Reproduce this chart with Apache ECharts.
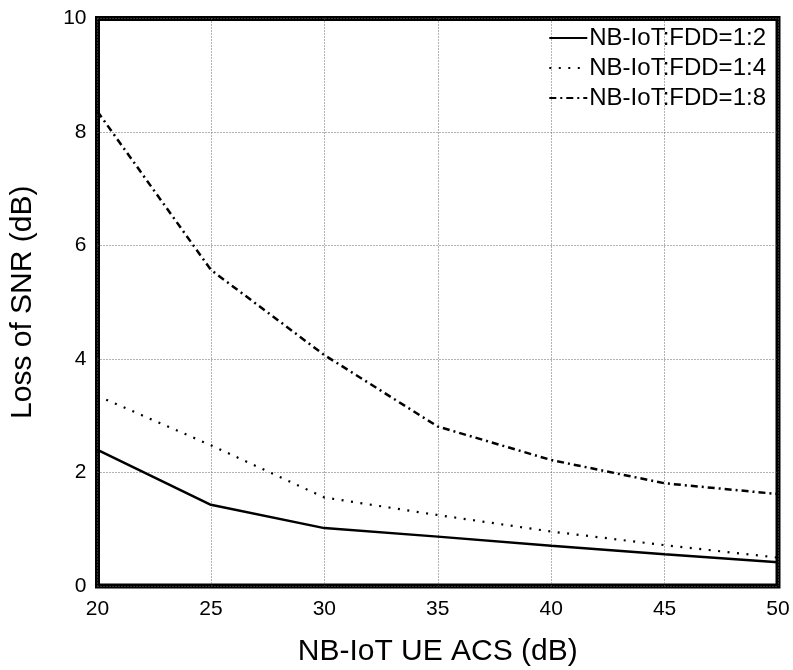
<!DOCTYPE html>
<html>
<head>
<meta charset="utf-8">
<script src="https://cdn.jsdelivr.net/npm/echarts@6/dist/echarts.min.js"></script>
<style>
html,body{margin:0;padding:0;background:#fff;}
#chart{width:793px;height:670px;}
</style>
</head>
<body>
<div id="chart"></div>
<script>
const acs = [20, 25, 30, 35, 40, 45, 50];
const seriesNames = ['NB-IoT:FDD=1:2', 'NB-IoT:FDD=1:4', 'NB-IoT:FDD=1:8'];
const loss12 = [2.40, 1.43, 1.02, 0.87, 0.71, 0.56, 0.42];
const loss14 = [3.35, 2.48, 1.56, 1.25, 0.96, 0.72, 0.50];
const loss18 = [8.36, 5.57, 4.07, 2.81, 2.22, 1.81, 1.62];
const xTicks = [20, 25, 30, 35, 40, 45, 50];
const yTicks = [0, 2, 4, 6, 8, 10];

const font = 'Liberation Sans, Arial, sans-serif';
function pairs(vals){ return acs.map((x,i)=>[x, vals[i]]); }

const chart = echarts.init(document.getElementById('chart'), null, {renderer:'canvas'});
const splitStyle = {show:true, lineStyle:{color:'#666', width:1, type:[1,2]}};
chart.setOption({
  animation:false,
  backgroundColor:'#fff',
  grid:{left:97.5, right:15, top:18.5, bottom:84, outerBoundsMode:'none', containLabel:false,
        show:true, borderColor:'#000', borderWidth:5, backgroundColor:'transparent'},
  legend:{
    orient:'vertical', right:22, top:21, itemWidth:38, itemHeight:14, itemGap:6,
    itemStyle:{opacity:0},
    textStyle:{fontFamily:font, fontSize:24, color:'#000', padding:[0,0,0,-3]},
    backgroundColor:'transparent',
    data:seriesNames
  },
  xAxis:{
    type:'value', min:xTicks[0], max:xTicks[xTicks.length-1], interval:5,
    name:'NB-IoT UE ACS (dB)', nameLocation:'middle', nameGap:51,
    nameTextStyle:{fontFamily:font, fontSize:30, color:'#000'},
    axisLine:{show:false}, axisTick:{show:false},
    axisLabel:{fontFamily:font, fontSize:21, color:'#000', margin:13},
    splitLine:splitStyle
  },
  yAxis:{
    type:'value', min:yTicks[0], max:yTicks[yTicks.length-1], interval:2,
    name:'Loss of SNR (dB)', nameLocation:'middle', nameGap:60,
    nameTextStyle:{fontFamily:font, fontSize:30, color:'#000'},
    axisLine:{show:false}, axisTick:{show:false},
    axisLabel:{fontFamily:font, fontSize:21, color:'#000', margin:11},
    splitLine:splitStyle
  },
  series:[
    {name:seriesNames[0], type:'line', data:pairs(loss12), symbol:'none',
     lineStyle:{color:'#000', width:2.5, type:'solid'}, itemStyle:{color:'#000'}},
    {name:seriesNames[1], type:'line', data:pairs(loss14), symbol:'none',
     lineStyle:{color:'#000', width:2.2, type:[2,7.5]}, itemStyle:{color:'#000'}},
    {name:seriesNames[2], type:'line', data:pairs(loss18), symbol:'none',
     lineStyle:{color:'#000', width:2.5, type:[7,4,2,4]}, itemStyle:{color:'#000'}}
  ]
});
</script>
</body>
</html>
